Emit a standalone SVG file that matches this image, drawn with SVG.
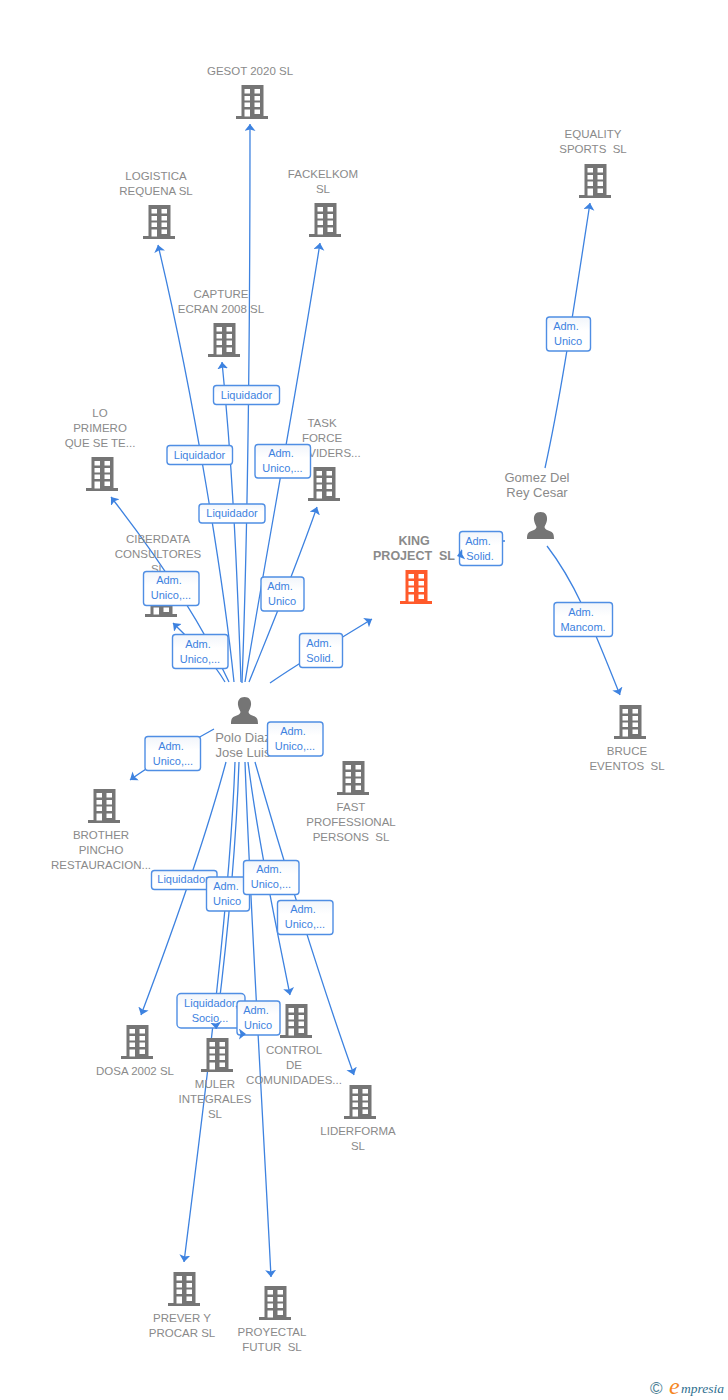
<svg xmlns="http://www.w3.org/2000/svg" width="728" height="1400" viewBox="0 0 728 1400">
<style>
text{white-space:pre}
.n{font:11.500px "Liberation Sans",Arial,sans-serif;fill:#8a8a8a;text-anchor:middle}
.k{font-weight:bold;font-size:12.500px}
.p{font-size:13px}
.c{fill:none;stroke:#3d82e0;stroke-width:1.300;marker-end:url(#a)}
.s{fill:none;stroke:#3d82e0;stroke-width:1.300}
.b{fill:url(#g);stroke:#4f8ee4;stroke-width:1.400}
.l{font:11px "Liberation Sans",Arial,sans-serif;fill:#3d82e0;text-anchor:middle}
.i{fill:#757575}
.w{fill:#fff}
</style>
<defs>
<linearGradient id="g" x1="0" y1="0" x2="0" y2="1"><stop offset="0" stop-color="#f1f5fb"/><stop offset=".4" stop-color="#fff"/></linearGradient>
<marker id="a" markerUnits="userSpaceOnUse" markerWidth="12" markerHeight="12" refX="7" refY="5.500" orient="auto"><path d="M7 5.500L0 0L1.500 5.500L0 11Z" fill="#3d82e0"/></marker>
<g id="wn"><rect class="w" x="8.500" y="4" width="5.500" height="4.500"/><rect class="w" x="18.500" y="4" width="5.500" height="4.500"/><rect class="w" x="8.500" y="11" width="5.500" height="4.500"/><rect class="w" x="18.500" y="11" width="5.500" height="4.500"/><rect class="w" x="8.500" y="17.500" width="5.500" height="4.500"/><rect class="w" x="18.500" y="17.500" width="5.500" height="4.500"/><rect class="w" x="8.500" y="24.500" width="5.500" height="7"/><rect class="w" x="18.500" y="24.500" width="5.500" height="4.500"/></g>
<g id="bd"><path class="i" d="M5.500 0H27.500V31H32V34H0V31H5.500Z"/><use href="#wn"/></g>
<path id="pr" class="i" d="M13.500 0C18.500 0 20.500 3.500 20 8C19.700 11 18 13 17.500 15C17.500 17 20 18 22.500 19C26 20.300 27 22 27 27H0C0 22 1 20.300 4.500 19C7 18 9.500 17 9.500 15C9 13 7.300 11 7 8C6.500 3.500 8.500 0 13.500 0Z"/>
</defs>
<g id="connectors">
<path class="c" d="M242 683C249 500 250 300 250 124"/>
<path class="c" d="M234 682C224 585 195 400 158 245"/>
<path class="c" d="M245 682C265 560 297 390 320 243"/>
<path class="c" d="M241 682C238 600 234 480 222 362"/>
<path class="c" d="M249 682C270 630 295 570 317 507"/>
<path class="c" d="M229 682C200 620 160 560 111 497"/>
<path class="c" d="M225 682C212 660 195 645 173 623"/>
<path class="c" d="M270 683C300 662 335 642 372 619"/>
<path class="c" d="M214 729C185 745 155 762 130 780"/>
<path class="c" d="M226 762C205 840 175 925 141 1015"/>
<path class="c" d="M235 762C230 900 207 1080 184 1262"/>
<path class="c" d="M239 762C236 850 226 950 216 1029"/>
<path class="c" d="M245 762C250 900 262 1100 271 1277"/>
<path class="c" d="M248 762C258 840 275 920 290 995"/>
<path class="c" d="M255 762C280 850 320 980 354 1075"/>
<path class="c" d="M545 468C560 400 572 320 590 203"/>
<path class="c" d="M547 546C578 586 597 638 620 695"/>
</g>
<g id="gesot"><use href="#bd" x="236" y="85"/><text class="n" x="250" y="75">GESOT 2020 SL</text></g>
<g id="equality"><use href="#bd" x="579" y="164"/><text class="n" x="593" y="138">EQUALITY</text><text class="n" x="593" y="153">SPORTS  SL</text></g>
<g id="logistica"><use href="#bd" x="143" y="205"/><text class="n" x="156" y="180">LOGISTICA</text><text class="n" x="156" y="195">REQUENA SL</text></g>
<g id="fackelkom"><use href="#bd" x="309" y="203"/><text class="n" x="323" y="178">FACKELKOM</text><text class="n" x="323" y="193">SL</text></g>
<g id="capture"><use href="#bd" x="208" y="323"/><text class="n" x="221" y="298">CAPTURE</text><text class="n" x="221" y="313">ECRAN 2008 SL</text></g>
<g id="loprimero"><use href="#bd" x="86" y="457"/><text class="n" x="100" y="417">LO</text><text class="n" x="100" y="432">PRIMERO</text><text class="n" x="100" y="447">QUE SE TE...</text></g>
<g id="task"><use href="#bd" x="308" y="467"/><text class="n" x="322" y="427">TASK</text><text class="n" x="322" y="442">FORCE</text><text class="n" x="322" y="457">PROVIDERS...</text></g>
<g id="ciberdata"><use href="#bd" x="145" y="583"/><text class="n" x="158" y="543">CIBERDATA</text><text class="n" x="158" y="558">CONSULTORES</text><text class="n" x="158" y="573">SL</text></g>
<g id="king"><path d="M405.500 570H427.500V601H432V604H400V601H405.500Z" fill="#ff5a2b"/><use href="#wn" x="400" y="570"/><text class="n k" x="414" y="545">KING</text><text class="n k" x="414" y="560">PROJECT  SL</text></g>
<g id="gomez"><use href="#pr" x="527" y="512"/><text class="n p" x="537" y="482">Gomez Del</text><text class="n p" x="537" y="497">Rey Cesar</text></g>
<g id="polo"><use href="#pr" x="231" y="697"/><text class="n p" x="243" y="742">Polo Diaz</text><text class="n p" x="243" y="757">Jose Luis</text></g>
<g id="bruce"><use href="#bd" x="614" y="705"/><text class="n" x="627" y="755">BRUCE</text><text class="n" x="627" y="770">EVENTOS  SL</text></g>
<g id="fast"><use href="#bd" x="337" y="761"/><text class="n" x="351" y="811">FAST</text><text class="n" x="351" y="826">PROFESSIONAL</text><text class="n" x="351" y="841">PERSONS  SL</text></g>
<g id="brother"><use href="#bd" x="88" y="789"/><text class="n" x="101" y="839">BROTHER</text><text class="n" x="101" y="854">PINCHO</text><text class="n" x="101" y="869">RESTAURACION...</text></g>
<g id="dosa"><use href="#bd" x="121" y="1025"/><text class="n" x="135" y="1075">DOSA 2002 SL</text></g>
<g id="muler"><use href="#bd" x="201" y="1038"/><text class="n" x="215" y="1088">MULER</text><text class="n" x="215" y="1103">INTEGRALES</text><text class="n" x="215" y="1118">SL</text></g>
<g id="control"><use href="#bd" x="280" y="1004"/><text class="n" x="294" y="1054">CONTROL</text><text class="n" x="294" y="1069">DE</text><text class="n" x="294" y="1084">COMUNIDADES...</text></g>
<g id="liderforma"><use href="#bd" x="344" y="1085"/><text class="n" x="358" y="1135">LIDERFORMA</text><text class="n" x="358" y="1150">SL</text></g>
<g id="prever"><use href="#bd" x="168" y="1272"/><text class="n" x="182" y="1322">PREVER Y</text><text class="n" x="182" y="1337">PROCAR SL</text></g>
<g id="proyectal"><use href="#bd" x="259" y="1286"/><text class="n" x="272" y="1336">PROYECTAL</text><text class="n" x="272" y="1351">FUTUR  SL</text></g>
<g id="labels">
<rect class="b" x="213.500" y="385.500" width="66" height="19" rx="3"/><text class="l" x="246.500" y="399">Liquidador</text>
<rect class="b" x="167" y="445.500" width="65.500" height="19" rx="3"/><text class="l" x="199.500" y="459">Liquidador</text>
<rect class="b" x="255" y="444.500" width="55.500" height="33.500" rx="3"/><text class="l" x="281" y="457">Adm.</text><text class="l" x="282.500" y="472">Unico,...</text>
<rect class="b" x="199" y="504" width="66" height="19" rx="3"/><text class="l" x="232" y="517">Liquidador</text>
<rect class="b" x="143.500" y="571.500" width="55.500" height="34" rx="3"/><text class="l" x="169" y="584">Adm.</text><text class="l" x="171" y="599">Unico,...</text>
<rect class="b" x="261" y="577" width="43" height="34" rx="3"/><text class="l" x="280" y="590">Adm.</text><text class="l" x="282" y="605">Unico</text>
<rect class="b" x="172.500" y="634.500" width="55.500" height="34" rx="3"/><text class="l" x="198" y="648">Adm.</text><text class="l" x="200" y="663">Unico,...</text>
<rect class="b" x="299.500" y="633.500" width="43" height="34" rx="3"/><text class="l" x="319" y="647">Adm.</text><text class="l" x="320" y="662">Solid.</text>
<rect class="b" x="267.500" y="722" width="55.500" height="34" rx="3"/><text class="l" x="293" y="735">Adm.</text><text class="l" x="295" y="750">Unico,...</text>
<rect class="b" x="145" y="736.500" width="55.500" height="34" rx="3"/><text class="l" x="171" y="750">Adm.</text><text class="l" x="173" y="765">Unico,...</text>
<rect class="b" x="151.500" y="870.500" width="65.500" height="19" rx="3"/><text class="l" x="183" y="883">Liquidador</text>
<rect class="b" x="206.500" y="877" width="43" height="34" rx="3"/><text class="l" x="226" y="890">Adm.</text><text class="l" x="227" y="905">Unico</text>
<rect class="b" x="243.500" y="860.500" width="55.500" height="34" rx="3"/><text class="l" x="269" y="873">Adm.</text><text class="l" x="271" y="888">Unico,...</text>
<rect class="b" x="277.500" y="900.500" width="55.500" height="34" rx="3"/><text class="l" x="303" y="913">Adm.</text><text class="l" x="305" y="928">Unico,...</text>
<rect class="b" x="177" y="993.500" width="68" height="34.500" rx="4"/><text class="l" x="211" y="1007">Liquidador,</text><text class="l" x="210" y="1022">Socio...</text>
<rect class="b" x="237" y="1001" width="43" height="34" rx="3"/><text class="l" x="256" y="1014">Adm.</text><text class="l" x="258" y="1029">Unico</text>
<rect class="b" x="459.500" y="531.500" width="43" height="34" rx="3"/><text class="l" x="478" y="545">Adm.</text><text class="l" x="480" y="560">Solid.</text>
<rect class="b" x="554" y="602.500" width="58.500" height="34" rx="3"/><text class="l" x="581" y="616">Adm.</text><text class="l" x="583" y="631">Mancom.</text>
<rect class="b" x="546.500" y="317" width="44" height="34" rx="3"/><text class="l" x="566" y="330">Adm.</text><text class="l" x="568" y="345">Unico</text>
</g>
<g id="connector-tips">
<path class="c" d="M215.500 1020L216.500 1029" stroke-opacity="0"/>
<path class="c" d="M238 1034L246 1034" stroke-opacity="0"/>
<path class="c" d="M464 554L457 556" stroke-opacity="0"/>
<path class="s" d="M503 541H505"/>
</g>
<g id="logo"><text x="650" y="1394" font-family="'Liberation Sans',sans-serif" font-size="17" fill="#4d7f95">©</text><text x="669" y="1394" font-family="'Liberation Serif',serif" font-size="24" font-style="italic" fill="#f5871f">e</text><text x="681" y="1393" font-family="'Liberation Serif',serif" font-size="13.500" font-style="italic" fill="#2f6f8f">mpresia</text></g>
</svg>
